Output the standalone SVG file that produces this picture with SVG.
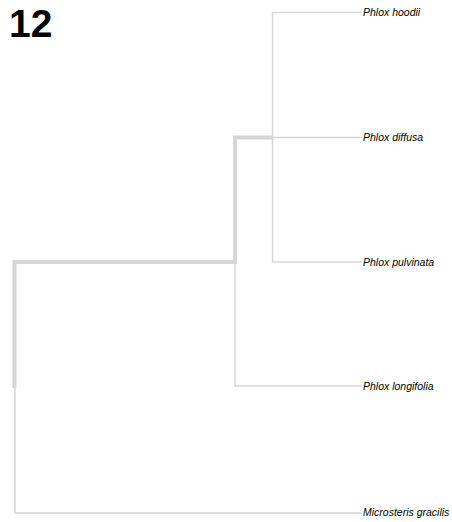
<svg xmlns="http://www.w3.org/2000/svg" width="452" height="522" viewBox="0 0 452 522">
<style>
.thin{fill:none;stroke:#d6d6d6;stroke-width:1.5}
.thick{fill:none;stroke:#d6d6d6;stroke-width:4}
.lbl{font-family:"Liberation Sans",Arial,sans-serif;font-style:italic;font-size:10.5px;fill:#000}
.num{font-family:"Liberation Sans",Arial,sans-serif;font-weight:bold;font-size:39px;fill:#000}
</style>
<rect width="452" height="522" fill="#fff"/>
<text class="num" x="9" y="37">12</text>
<g id="connectors">
<path class="thin" d="M15,386 V513 H362"/>
<path class="thin" d="M235,262 V386 H362"/>
<path class="thin" d="M362,12.5 H272.5 V262 H362"/>
<path class="thin" d="M272.5,137.5 H362"/>
<path class="thick" d="M14.5,388 V262 H235 V137.5 H273"/>
</g>
<g id="node-hoodii"><text class="lbl" x="363" y="16">Phlox hoodii</text></g>
<g id="node-diffusa"><text class="lbl" x="363" y="141">Phlox diffusa</text></g>
<g id="node-pulvinata"><text class="lbl" x="363" y="266">Phlox pulvinata</text></g>
<g id="node-longifolia"><text class="lbl" x="363" y="390">Phlox longifolia</text></g>
<g id="node-microsteris"><text class="lbl" x="363" y="516">Microsteris gracilis</text></g>
</svg>
